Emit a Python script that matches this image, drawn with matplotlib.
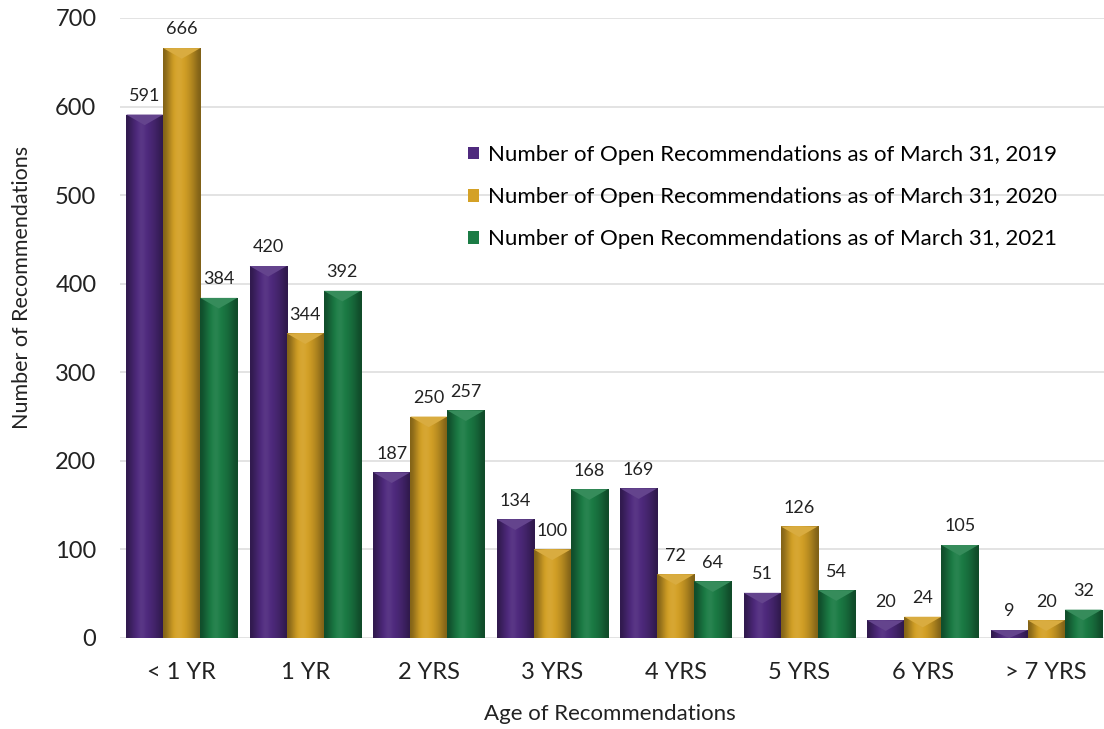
import numpy as np
import matplotlib
matplotlib.use("Agg")
import matplotlib.pyplot as plt
from matplotlib.colors import to_rgb

plt.rcParams['font.family'] = ['Lato', 'DejaVu Sans']

categories = ["< 1 YR", "1 YR", "2 YRS", "3 YRS", "4 YRS", "5 YRS", "6 YRS", "> 7 YRS"]
series_names = ["Number of Open Recommendations as of March 31, 2019",
                "Number of Open Recommendations as of March 31, 2020",
                "Number of Open Recommendations as of March 31, 2021"]
vals_2019 = [591, 420, 187, 134, 169, 51, 20, 9]
vals_2020 = [666, 344, 250, 100, 72, 126, 24, 20]
vals_2021 = [384, 392, 257, 168, 64, 54, 105, 32]
colors = ["#4f2a7e", "#d4a126", "#1b7c45"]

fig = plt.figure(figsize=(11.04, 7.29), dpi=100)
ax = fig.add_axes([120/1104, 91/729, 988/1104, 620/729])
ax.set_xlim(-0.5, 7.5)
ax.set_ylim(0, 700)

x = np.arange(len(categories))
w = 0.3
allvals = [vals_2019, vals_2020, vals_2021]

def shade(c, f):
    r = np.array(to_rgb(c))
    if f < 1:
        return r * f
    return r + (1 - r) * (f - 1)

for i, (vals, col, name) in enumerate(zip(allvals, colors, series_names)):
    xs = x + (i - 1) * w
    bars = ax.bar(xs, vals, width=w, color=col, label=name, zorder=2, linewidth=0)
    prof = np.array([0.62, 0.75, 0.88, 1.0, 1.06, 1.06, 1.0, 0.95, 0.88, 0.8, 0.7, 0.6])
    grad = np.array([shade(col, f) for f in prof])[None, :, :]
    for b in bars:
        x0, y0 = b.get_x(), b.get_y()
        bw, bh = b.get_width(), b.get_height()
        im = ax.imshow(grad, extent=[x0, x0 + bw, y0, y0 + bh], aspect='auto',
                       interpolation='bicubic', zorder=2.1)
        im.set_clip_path(b)
        bev = min(bh, 12)
        tri = plt.Polygon([[x0, y0 + bh], [x0 + bw, y0 + bh], [x0 + bw / 2, y0 + bh - bev]],
                          closed=True, facecolor=shade(col, 1.12), edgecolor='none', zorder=2.2)
        ax.add_patch(tri)
        ax.text(x0 + bw / 2, y0 + bh + 12, str(int(bh)), ha='center', va='bottom',
                fontsize=13, color='#222222', zorder=3)

ax.set_yticks(range(0, 701, 100))
ax.tick_params(axis='y', labelsize=17, length=0, pad=17, colors='#222222')
ax.set_xticks(x)
ax.set_xticklabels(categories)
ax.tick_params(axis='x', labelsize=17, length=0, pad=17, colors='#222222')
ax.grid(axis='y', color='#dedede', linewidth=1.2, zorder=0)
ax.set_axisbelow(True)
for s in ax.spines.values():
    s.set_visible(False)

ax.set_ylabel("Number of Recommendations", fontsize=15.5, color='#222222')
ax.yaxis.set_label_coords((32 - 120)/988, (638 - 287)/620)
ax.set_xlabel("Age of Recommendations", fontsize=16, color='#222222')
ax.xaxis.set_label_coords((610 - 120)/988, -(704 - 638)/620)

leg = ax.legend(loc='upper left', bbox_to_anchor=(339/988, (620 - 118)/620), frameon=False,
                fontsize=16, handlelength=0.5, handleheight=0.5, handletextpad=0.4,
                labelspacing=1.0, borderaxespad=0)

fig.savefig("out.png", dpi=100)
